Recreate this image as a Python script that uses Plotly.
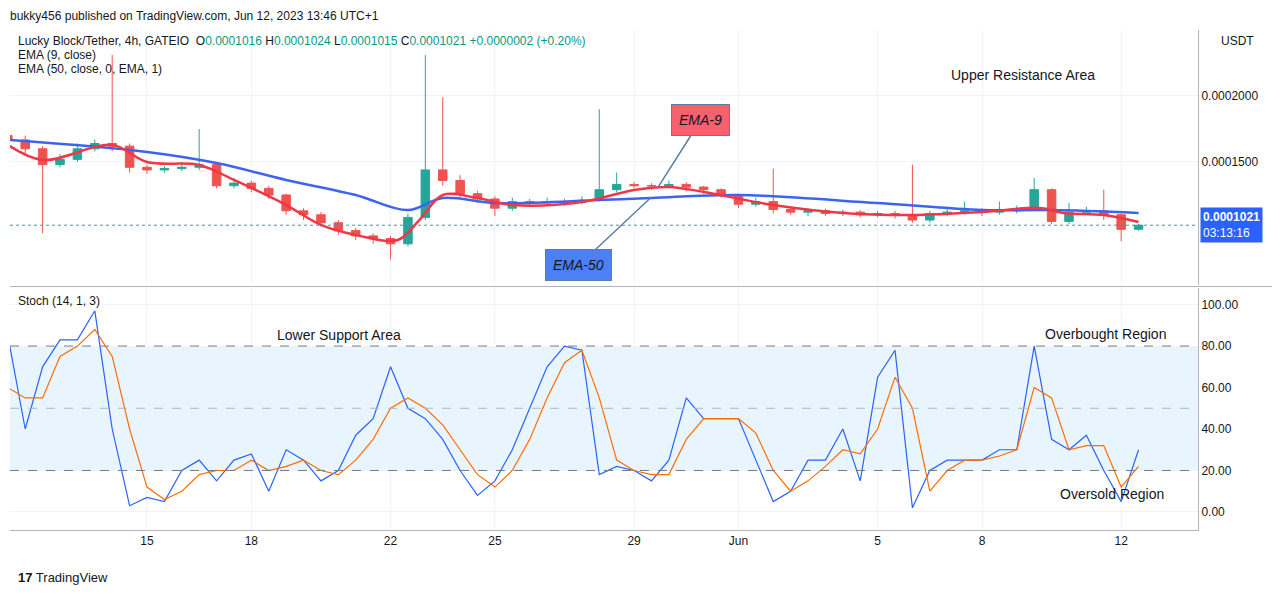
import plotly.graph_objects as go
import pandas as pd

# prices in units of 1e-7 USDT, 12h candles starting May 11 2023
closes = [1667,1600,1480,1520,1600,1640,1620,1460,1440,1450,1460,1480,1320,1340,1300,1250,1130,1100,1040,980,
          940,920,880,1080,1440,1360,1260,1220,1150,1200,1190,1200,1195,1210,1290,1330,1320,1320,1330,1310,
          1290,1250,1180,1200,1140,1120,1130,1110,1120,1100,1110,1100,1060,1110,1120,1130,1120,1130,1140,1290,
          1050,1120,1130,1100,990,1021]
highs = [1760,1700,1620,1560,1640,1670,2310,1640,1480,1470,1500,1750,1500,1380,1360,1320,1260,1150,1120,1060,
         1000,960,940,1110,2310,1990,1400,1280,1240,1230,1220,1230,1220,1240,1900,1420,1350,1340,1360,1345,
         1320,1300,1260,1230,1450,1160,1150,1145,1140,1135,1130,1130,1480,1130,1160,1200,1150,1200,1170,1380,
         1300,1190,1160,1290,1110,1030]
lows = [1640,1560,960,1460,1500,1580,1580,1420,1410,1420,1430,1440,1300,1300,1270,1220,1100,1060,1010,950,
        910,880,760,860,1060,1320,1230,1190,1090,1130,1160,1170,1170,1180,1200,1270,1300,1290,1300,1280,
        1260,1230,1150,1160,1110,1100,1090,1090,1090,1080,1080,1070,1040,1040,1090,1100,1090,1100,1110,1130,
        1030,1030,1100,1060,900,980]
first_open = 1700

ema9_dates = ["2023-05-11 00:00","2023-05-12 00:00","2023-05-14 00:00","2023-05-15 00:00","2023-05-16 12:00",
              "2023-05-17 12:00","2023-05-19 00:00","2023-05-20 00:00","2023-05-21 00:00","2023-05-22 05:00",
              "2023-05-22 20:00","2023-05-23 12:00","2023-05-24 12:00","2023-05-25 12:00","2023-05-27 12:00",
              "2023-05-29 00:00","2023-05-30 00:00","2023-05-31 00:00","2023-06-02 00:00","2023-06-04 00:00",
              "2023-06-06 00:00","2023-06-08 00:00","2023-06-09 16:00","2023-06-10 08:00","2023-06-11 12:00",
              "2023-06-12 12:00"]
ema9 = [1629,1515,1629,1500,1477,1364,1174,1023,947,909,1061,1250,1227,1174,1197,1288,1311,1273,
        1174,1114,1098,1121,1152,1114,1098,1045]
ema50_dates = ["2023-05-11 00:00","2023-05-15 00:00","2023-05-17 00:00","2023-05-19 00:00","2023-05-21 00:00",
               "2023-05-22 12:00","2023-05-23 12:00","2023-05-25 00:00","2023-05-28 00:00","2023-05-29 12:00",
               "2023-06-01 00:00","2023-06-05 00:00","2023-06-08 00:00","2023-06-10 00:00","2023-06-12 12:00"]
ema50 = [1667,1576,1492,1364,1250,1136,1227,1189,1212,1227,1250,1189,1136,1136,1114]

stoch_k = [85,40,70,83,83,97,40,3,7,5,20,25,15,25,28,10,30,25,15,20,37,45,70,50,45,35,20,8,15,30,
           50,70,80,78,18,22,20,15,25,55,45,45,45,25,5,10,25,25,40,15,65,78,2,20,25,25,25,30,30,80,
           35,30,37,20,5,30]
stoch_d = [60,55,55,75,80,88,75,40,12,6,10,18,20,20,25,20,22,25,20,18,25,35,50,55,50,42,30,18,12,20,
           35,55,72,78,55,25,20,18,18,35,45,45,45,38,20,10,15,22,30,28,40,65,50,10,20,25,25,27,30,60,
           55,30,32,32,12,22]

tick_dates = ["2023-05-15","2023-05-18","2023-05-22","2023-05-25","2023-05-29","2023-06-01",
              "2023-06-05","2023-06-08","2023-06-12"]
tick_text = ["15","18","22","25","29","Jun","5","8","12"]

E = 1e-7
times = pd.date_range("2023-05-11", periods=len(closes), freq="12h")
opens = [first_open] + closes[:-1]

BLUE = "#2962ff"
fig = go.Figure()
fig.add_trace(go.Candlestick(
    x=times, open=[v * E for v in opens], high=[v * E for v in highs],
    low=[v * E for v in lows], close=[v * E for v in closes], whiskerwidth=0,
    increasing=dict(line=dict(color="#26a69a", width=1), fillcolor="#26a69a"),
    decreasing=dict(line=dict(color="#ef5350", width=1), fillcolor="#ef5350"),
    xaxis="x", yaxis="y", showlegend=False))
fig.add_trace(go.Scatter(x=pd.to_datetime(ema50_dates), y=[v * E for v in ema50], mode="lines",
                         line=dict(color="#3d63f0", width=2.5, shape="spline"), showlegend=False))
fig.add_trace(go.Scatter(x=pd.to_datetime(ema9_dates), y=[v * E for v in ema9], mode="lines",
                         line=dict(color="#f23645", width=2.5, shape="spline"), showlegend=False))
fig.add_trace(go.Scatter(x=times, y=stoch_k, mode="lines", line=dict(color=BLUE, width=1.2),
                         xaxis="x2", yaxis="y2", showlegend=False))
fig.add_trace(go.Scatter(x=times, y=stoch_d, mode="lines", line=dict(color="#ff6d00", width=1.2),
                         xaxis="x2", yaxis="y2", showlegend=False))

xr = [pd.Timestamp("2023-05-11 01:30"), pd.Timestamp("2023-06-14 05:00")]
grid = "#f0f3fa"
fig.update_layout(
    width=1280, height=595, paper_bgcolor="white", plot_bgcolor="white",
    margin=dict(l=2, r=90, t=22, b=73, autoexpand=False),
    font=dict(family="Liberation Sans", size=12, color="#131722"),
    xaxis=dict(domain=[0, 1], range=xr, showticklabels=False, gridcolor=grid,
               tickvals=pd.to_datetime(tick_dates), rangeslider=dict(visible=False), anchor="y"),
    xaxis2=dict(domain=[0, 1], range=xr, tickvals=pd.to_datetime(tick_dates), ticktext=tick_text,
                gridcolor=grid, anchor="y2", matches="x", showline=True, linecolor="#b2b5be"),
    yaxis=dict(domain=[0.49, 1], range=[0.0000568, 0.00025], side="right", gridcolor=grid,
               tickvals=[0.00015, 0.0002], ticktext=["0.0001500", "0.0002000"], zeroline=False,
               showline=True, linecolor="#b2b5be"),
    yaxis2=dict(domain=[0, 0.484], range=[-8.7, 108], side="right", gridcolor=grid,
                tickvals=[0, 20, 40, 60, 80, 100],
                ticktext=["0.00", "20.00", "40.00", "60.00", "80.00", "100.00"], zeroline=False,
                showline=True, linecolor="#b2b5be"),
)

# stoch band and levels
fig.add_shape(type="rect", xref="x2 domain", yref="y2", x0=0, x1=1, y0=20, y1=80,
              fillcolor="rgba(33,150,243,0.1)", line_width=0, layer="below")
for lvl in [20, 50, 80]:
    fig.add_shape(type="line", xref="x2 domain", yref="y2", x0=0, x1=1, y0=lvl, y1=lvl,
                  line=dict(color="#787b86" if lvl != 50 else "#b2b5be", width=1, dash="dash"))
fig.add_shape(type="line", xref="paper", yref="paper", x0=0, x1=1.07, y0=0.487, y1=0.487,
              line=dict(color="#b2b5be", width=1))
fig.add_shape(type="line", xref="x domain", yref="y", x0=0, x1=1, y0=1021 * E, y1=1021 * E,
              line=dict(color="#26a69a", width=1, dash="dot"))

green = "#089981"
header = ("Lucky Block/Tether, 4h, GATEIO  O<span style='color:%s'>0.0001016</span> "
          "H<span style='color:%s'>0.0001024</span> L<span style='color:%s'>0.0001015</span> "
          "C<span style='color:%s'>0.0001021</span> <span style='color:%s'>+0.0000002 (+0.20%%)</span>"
          % ((green,) * 5))
ann = [
    dict(text=header, x=0.005, y=0.978),
    dict(text="EMA (9, close)", x=0.005, y=0.95),
    dict(text="EMA (50, close, 0, EMA, 1)", x=0.005, y=0.922),
    dict(text="Stoch (14, 1, 3)", x=0.005, y=0.458),
    dict(text="USDT", x=1.018, y=0.978),
    dict(text="<b>17</b> TradingView", x=0.005, y=-0.095, font=dict(size=13, color="#131722")),
]
for a in ann:
    a.setdefault("font", dict(size=12, color="#131722"))
    fig.add_annotation(xref="paper", yref="paper", showarrow=False, yanchor="middle",
                       xanchor="left", **a)
fig.add_annotation(xref="paper", yref="paper", x=-0.001, y=1.044, xanchor="left", yanchor="top",
                   showarrow=False, text="bukky456 published on TradingView.com, Jun 12, 2023 13:46 UTC+1",
                   font=dict(size=12, color="#131722"), borderpad=0)

for txt, x, y in [("Upper Resistance Area", 0.853, 0.93), ("Lower Support Area", 0.277, 0.39),
                  ("Overbought Region", 0.922, 0.393), ("Oversold Region", 0.928, 0.052)]:
    fig.add_annotation(xref="paper", yref="paper", x=x, y=y, text=txt, showarrow=False,
                       xanchor="center", font=dict(size=14, color="#131722"))

fig.add_annotation(x=pd.Timestamp("2023-05-29 16:00"), y=1300 * E, ax=pd.Timestamp("2023-05-30 22:00"),
                   ay=1818 * E, axref="x", ayref="y", xref="x", yref="y", text="<i>EMA-9</i>",
                   showarrow=True, arrowhead=0, arrowcolor="#5b7fa8", arrowwidth=1.5,
                   bgcolor="#f7616d", bordercolor="#5b7fa8", borderpad=7,
                   font=dict(size=14, color="#131722"))
fig.add_annotation(x=pd.Timestamp("2023-05-29 12:00"), y=1235 * E, ax=pd.Timestamp("2023-05-27 10:00"),
                   ay=720 * E, axref="x", ayref="y", xref="x", yref="y", text="<i>EMA-50</i>",
                   showarrow=True, arrowhead=0, arrowcolor="#5b7fa8", arrowwidth=1.5,
                   bgcolor="#4d7ff5", bordercolor="#5b7fa8", borderpad=7,
                   font=dict(size=14, color="#131722"))
fig.add_annotation(xref="paper", yref="y", x=1.002, y=1021 * E, xanchor="left", showarrow=False,
                   text="<b>0.0001021</b><br>03:13:16", bgcolor=BLUE, font=dict(size=12, color="white"),
                   align="left", borderpad=2)

fig.write_html("out.html")
